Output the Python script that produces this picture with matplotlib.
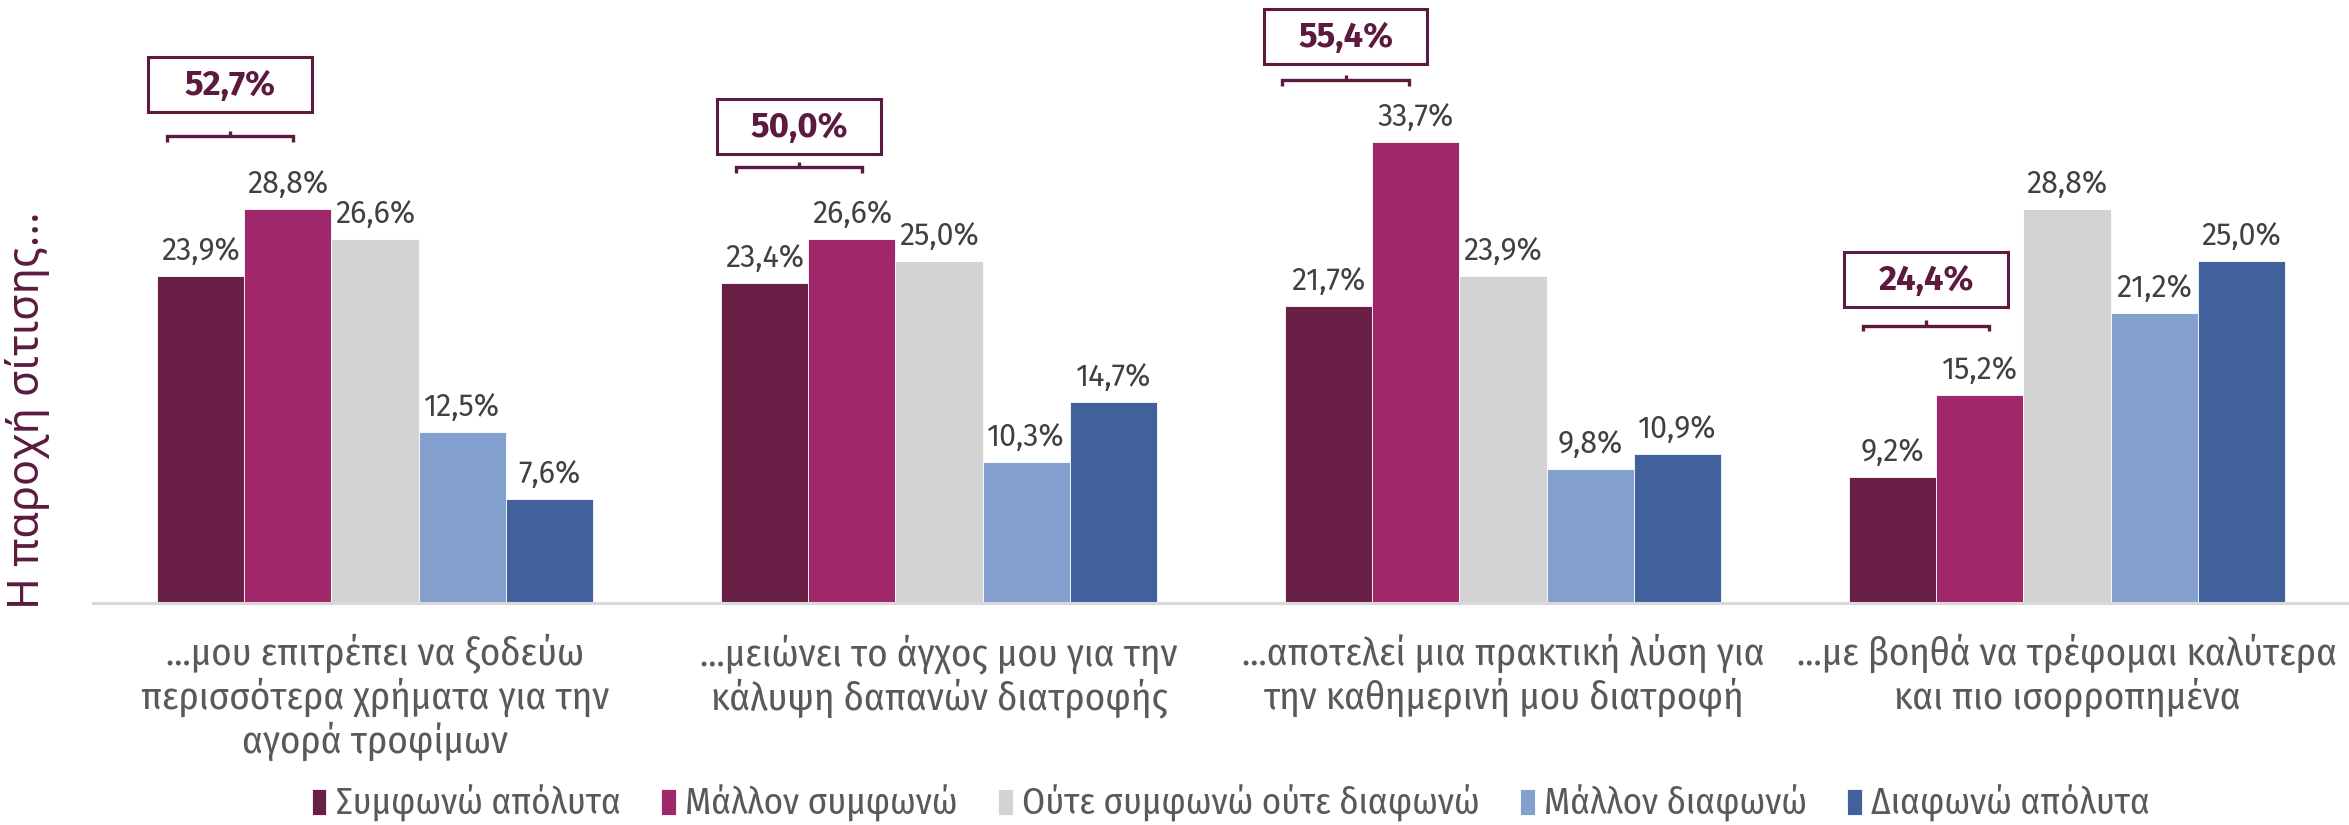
import matplotlib
matplotlib.use("Agg")
import matplotlib.pyplot as plt
from matplotlib.patches import Rectangle
import numpy as np

# ---- data ----
categories = [
    "...μου επιτρέπει να ξοδεύω\nπερισσότερα χρήματα για την\nαγορά τροφίμων",
    "...μειώνει το άγχος μου για την\nκάλυψη δαπανών διατροφής",
    "...αποτελεί μια πρακτική λύση για\nτην καθημερινή μου διατροφή",
    "...με βοηθά να τρέφομαι καλύτερα\nκαι πιο ισορροπημένα",
]
series_names = ["Συμφωνώ απόλυτα", "Μάλλον συμφωνώ", "Ούτε συμφωνώ ούτε διαφωνώ",
                "Μάλλον διαφωνώ", "Διαφωνώ απόλυτα"]
agree_abs = [23.9, 23.4, 21.7, 9.2]
agree_rather = [28.8, 26.6, 33.7, 15.2]
neutral = [26.6, 25.0, 23.9, 28.8]
disagree_rather = [12.5, 10.3, 9.8, 21.2]
disagree_abs = [7.6, 14.7, 10.9, 25.0]
agree_totals = [52.7, 50.0, 55.4, 24.4]
y_label = "Η παροχή σίτισης..."

# ---- layout / style ----
series = [agree_abs, agree_rather, neutral, disagree_rather, disagree_abs]
colors = ["#6A2046", "#A0286A", "#D3D3D3", "#84A0CF", "#41619D"]
bracket_levels = [34.1, 31.85, 38.2, 20.25]      # y of bracket line
box_bottoms = [35.85, 32.8, 39.37, 21.6]         # y of box bottom
anno_centers = [-0.257, -0.248, -0.279, -0.250]  # x offset of box/bracket centre

COND = ["Fira Sans Condensed", "Roboto Condensed", "DejaVu Sans"]
REG = ["Fira Sans", "Open Sans", "DejaVu Sans"]
plt.rcParams["font.family"] = COND

fig = plt.figure(figsize=(23.49, 8.25), dpi=100)
ax = fig.add_axes([0.0396, 0.2691, 0.9604, 0.7297])

x = np.arange(len(categories))
w = 0.1547
for k, (vals, col, name) in enumerate(zip(series, colors, series_names)):
    xs = x + (k - 2) * w
    ax.bar(xs, vals, width=w, color=col, label=name, edgecolor="white", linewidth=0.6)
    for xi, v in zip(xs, vals):
        ax.text(xi, v + 0.7, f"{v:.1f}".replace(".", ",") + "%", ha="center", va="bottom",
                fontsize=22, color="#404040", family=REG)

box_color = "#5B1A3E"
for i, tot in enumerate(agree_totals):
    xc = i + anno_centers[i]
    yb = bracket_levels[i]
    x0, x1 = xc - 0.112, xc + 0.112
    ax.plot([x0, x0, x1, x1], [yb - 0.4, yb, yb, yb - 0.4], color=box_color, lw=2.4,
            clip_on=False, solid_joinstyle="miter", solid_capstyle="butt")
    ax.plot([xc, xc], [yb, yb + 0.4], color=box_color, lw=2.4, clip_on=False,
            solid_capstyle="butt")
    bx0, bx1 = xc - 0.145, xc + 0.145
    by0 = box_bottoms[i]
    ax.add_patch(Rectangle((bx0, by0), bx1 - bx0, 4.02, facecolor="white",
                           edgecolor=box_color, lw=2.2, clip_on=False))
    ax.text(xc, by0 + 1.95, f"{tot:.1f}".replace(".", ",") + "%",
            ha="center", va="center", fontsize=25, fontweight="bold", color=box_color,
            family=REG)

ax.set_xlim(-0.5, len(categories) - 0.5)
ax.set_ylim(0, 44)
for s in ["top", "right", "left"]:
    ax.spines[s].set_visible(False)
ax.spines["bottom"].set_color("#D9D9D9")
ax.spines["bottom"].set_linewidth(2.2)
ax.set_yticks([])
ax.set_xticks(x)
ax.set_xticklabels(categories, fontsize=28, color="#595959", linespacing=1.13)
ax.tick_params(axis="x", length=0, pad=22)

fig.text(0.0115, 0.503, y_label, rotation=90, ha="center", va="center",
         fontsize=31, color="#5B1A3E", family=["Noto Sans", "DejaVu Sans"])

handles, labels = ax.get_legend_handles_labels()
fig.legend(handles, labels, loc="center", bbox_to_anchor=(0.524, 0.026), ncol=5,
           frameon=False, fontsize=26.5, handlelength=0.4, handleheight=0.72,
           handletextpad=0.25, columnspacing=1.1, labelcolor="#595959")

fig.savefig("out.png", dpi=100)
